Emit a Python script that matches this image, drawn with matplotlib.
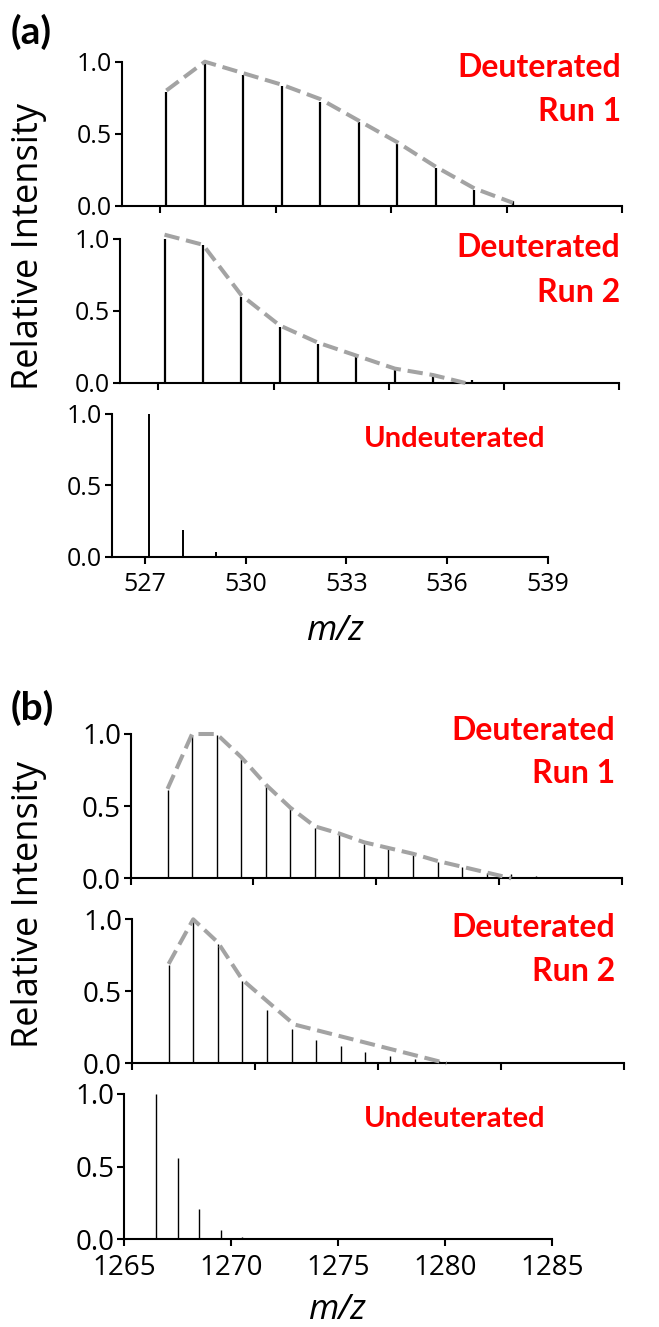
import matplotlib
matplotlib.use("Agg")
import matplotlib.pyplot as plt

# ---------------- data ----------------
# Panel (a)
a_run1_mz = [527.16, 528.16, 529.16, 530.16, 531.16, 532.16, 533.16, 534.16, 535.16, 536.16]
a_run1_int = [0.79, 1.00, 0.91, 0.83, 0.72, 0.58, 0.43, 0.26, 0.11, 0.03]
a_run1_env = [0.80, 1.00, 0.92, 0.84, 0.74, 0.59, 0.44, 0.27, 0.12, 0.02]

a_run2_mz = [527.16, 528.16, 529.16, 530.16, 531.16, 532.16, 533.16, 534.16, 535.16]
a_run2_int = [1.00, 0.96, 0.60, 0.39, 0.27, 0.18, 0.09, 0.05, 0.02]
a_run2_env_mz = [527.16, 528.16, 529.16, 530.16, 531.16, 532.16, 533.16, 534.16, 535.0]
a_run2_env = [1.03, 0.96, 0.61, 0.40, 0.28, 0.19, 0.10, 0.055, 0.0]

a_und_mz = [527.12, 528.12, 529.12]
a_und_int = [1.00, 0.19, 0.035]

a_xticks = [527, 530, 533, 536, 539]

# Panel (b)
b_run1_mz = [1266.5, 1267.5, 1268.5, 1269.5, 1270.5, 1271.5, 1272.5, 1273.5,
             1274.5, 1275.5, 1276.5, 1277.5, 1278.5, 1279.5, 1280.5, 1281.5]
b_run1_int = [0.61, 0.99, 0.99, 0.83, 0.64, 0.49, 0.35, 0.31,
              0.24, 0.20, 0.16, 0.11, 0.08, 0.04, 0.03, 0.015]
b_run1_env_mz = [1266.5, 1267.5, 1268.5, 1269.5, 1270.5, 1271.5, 1272.5, 1273.5,
                 1274.5, 1275.5, 1276.5, 1277.5, 1278.5, 1279.5, 1280.5]
b_run1_env = [0.62, 1.00, 1.00, 0.84, 0.65, 0.49, 0.36, 0.31,
              0.25, 0.21, 0.17, 0.12, 0.08, 0.04, 0.0]

b_run2_mz = [1266.5, 1267.5, 1268.5, 1269.5, 1270.5, 1271.5, 1272.5,
             1273.5, 1274.5, 1275.5, 1276.5, 1277.5, 1278.5]
b_run2_int = [0.68, 0.99, 0.83, 0.57, 0.37, 0.24, 0.16,
              0.12, 0.08, 0.05, 0.03, 0.016, 0.009]
b_run2_env_mz = [1266.5, 1267.5, 1268.5, 1269.5, 1271.6, 1277.8]
b_run2_env = [0.69, 1.00, 0.84, 0.58, 0.27, 0.0]

b_und_mz = [1266.5, 1267.5, 1268.5, 1269.5, 1270.5]
b_und_int = [1.00, 0.56, 0.21, 0.06, 0.015]

b_xticks = [1265, 1270, 1275, 1280, 1285]
yticks = [0.0, 0.5, 1.0]
ytick_labels = ["0.0", "0.5", "1.0"]

# ---------------- figure ----------------
W, H = 659, 1327
fig = plt.figure(figsize=(W / 100, H / 100), dpi=100)

def px_axes(x0, x1, ytop, ybot):
    return fig.add_axes([x0 / W, 1 - ybot / H, (x1 - x0) / W, (ybot - ytop) / H])

GREY = "#a3a3a3"
RED = "#ff0000"
TICKFONT = "Open Sans"

def style(ax, xlim, xticks, show_xlabels, fs, xpad):
    ax.set_xlim(*xlim)
    ax.set_ylim(0, 1.0)
    for s in ["top", "right"]:
        ax.spines[s].set_visible(False)
    for s in ["left", "bottom"]:
        ax.spines[s].set_linewidth(1.5)
    ax.set_xticks(xticks)
    ax.set_yticks(yticks)
    ax.set_yticklabels(ytick_labels, fontsize=fs, family=TICKFONT)
    if show_xlabels:
        ax.set_xticklabels([str(t) for t in xticks], fontsize=fs, family=TICKFONT)
    else:
        ax.set_xticklabels([])
    ax.tick_params(direction="out", length=5, width=1.5)
    ax.tick_params(axis="y", pad=2)
    ax.tick_params(axis="x", pad=xpad)
    ax.patch.set_alpha(0)

def stems(ax, mz, inten, lw):
    ax.vlines(mz, 0, inten, colors="black", linewidth=lw, zorder=2)

def envelope(ax, mz, env):
    ax.plot(mz, env, color=GREY, linewidth=2.9, linestyle=(0, (3.8, 1.7)),
            clip_on=False, zorder=3, dash_capstyle="butt")

def label(xr, ybase, s, fs=23):
    fig.text(xr / W, 1 - ybase / H, s, ha="right", va="baseline", color=RED,
             fontsize=fs, fontweight="bold", family="Lato")

# (a) top
ax = px_axes(121.7, 622.3, 61.7, 205.7)
style(ax, (526, 539), a_xticks, False, 18, 3)
stems(ax, a_run1_mz, a_run1_int, 1.6)
envelope(ax, a_run1_mz, a_run1_env)
label(621, 76.7, "Deuterated")
label(621, 121, "Run 1")

# (a) middle
ax = px_axes(120, 619, 239, 383)
style(ax, (526, 539), a_xticks, False, 18, 3)
stems(ax, a_run2_mz, a_run2_int, 1.6)
envelope(ax, a_run2_env_mz, a_run2_env)
label(620, 256.7, "Deuterated")
label(620, 301.7, "Run 2")

# (a) bottom
ax = px_axes(111.7, 547.7, 414, 556.7)
style(ax, (526, 539), a_xticks, True, 18, 6)
stems(ax, a_und_mz, a_und_int, 1.4)
label(545, 446.7, "Undeuterated", 21)
fig.text(335 / W, 1 - 631 / H, "m/z", ha="center", va="center", fontsize=25,
         style="italic", family="Open Sans")

# (b) top
ax = px_axes(130.7, 621.7, 734, 878.3)
style(ax, (1265, 1285), b_xticks, False, 20, 3)
stems(ax, b_run1_mz, b_run1_int, 1.0)
envelope(ax, b_run1_env_mz, b_run1_env)
label(615, 740, "Deuterated")
label(615, 782.7, "Run 1")

# (b) middle
ax = px_axes(131.7, 623.7, 919.3, 1063.3)
style(ax, (1265, 1285), b_xticks, False, 20, 3)
stems(ax, b_run2_mz, b_run2_int, 1.0)
envelope(ax, b_run2_env_mz, b_run2_env)
label(615, 936.7, "Deuterated")
label(615, 980.7, "Run 2")

# (b) bottom
ax = px_axes(124.3, 552.3, 1094, 1239)
style(ax, (1265, 1285), b_xticks, True, 20, 5.5)
stems(ax, b_und_mz, b_und_int, 1.0)
label(545, 1126.7, "Undeuterated", 21)
fig.text(337 / W, 1 - 1310 / H, "m/z", ha="center", va="center", fontsize=25,
         style="italic", family="Open Sans")

# y labels
fig.text(29 / W, 1 - 246 / H, "Relative Intensity", rotation=90, ha="center",
         va="center", fontsize=26, family="Open Sans")
fig.text(29 / W, 1 - 905 / H, "Relative Intensity", rotation=90, ha="center",
         va="center", fontsize=26, family="Open Sans")

# panel letters
fig.text(11 / W, 1 - 32 / H, "(a)", ha="left", va="center", fontsize=28,
         fontweight="bold", family="Lato")
fig.text(11 / W, 1 - 708 / H, "(b)", ha="left", va="center", fontsize=28,
         fontweight="bold", family="Lato")

fig.savefig("out.png", dpi=100)
